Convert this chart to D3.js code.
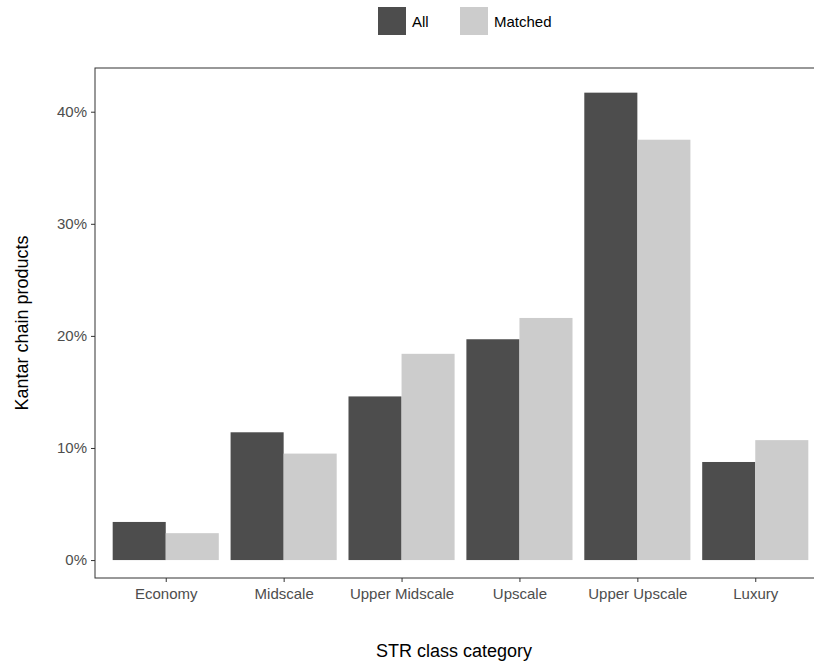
<!DOCTYPE html>
<html><head><meta charset="utf-8">
<script src="https://cdn.jsdelivr.net/npm/d3@7"></script>
<style>body{margin:0;background:#fff;overflow:hidden}text{font-family:"Liberation Sans",Arial,sans-serif}</style>
</head><body><div id="chart"></div>
<script>
var categories = ["Economy", "Midscale", "Upper Midscale", "Upscale", "Upper Upscale", "Luxury"];
var seriesNames = ["All", "Matched"];
var allValues = [3.4, 11.4, 14.6, 19.7, 41.7, 8.75];
var matchedValues = [2.4, 9.5, 18.4, 21.6, 37.5, 10.7];
var yTicks = [0, 10, 20, 30, 40];
var colors = ["#4d4d4d", "#cccccc"];

var svg = d3.select("#chart").append("svg").attr("width", 814).attr("height", 665);
var pLeft = 95, pRight = 826, pTop = 68, pBottom = 578;

var x = d3.scaleLinear().domain([-0.6, categories.length - 0.4]).range([pLeft, pRight]);
var y = d3.scaleLinear().domain([-1.6, 43.9]).range([pBottom, pTop]);
var bw = 0.45;

var data = [];
categories.forEach(function(c, i) {
  data.push({i: i, s: 0, v: allValues[i]});
  data.push({i: i, s: 1, v: matchedValues[i]});
});

svg.selectAll("rect.bar").data(data).enter().append("rect")
  .attr("x", d => x(d.i - 0.45 + d.s * bw))
  .attr("width", x(bw) - x(0))
  .attr("y", d => y(d.v))
  .attr("height", d => y(0) - y(d.v))
  .attr("fill", d => colors[d.s]);

svg.append("rect").attr("x", pLeft).attr("y", pTop).attr("width", pRight - pLeft).attr("height", pBottom - pTop)
  .attr("fill", "none").attr("stroke", "#333").attr("stroke-width", 1);

var yAxis = svg.append("g").attr("transform", `translate(${pLeft},0)`)
  .call(d3.axisLeft(y).tickValues(yTicks).tickFormat(d => d + "%").tickSize(4).tickPadding(4));
var xAxis = svg.append("g").attr("transform", `translate(0,${pBottom})`)
  .call(d3.axisBottom(x).tickValues(d3.range(categories.length)).tickFormat(i => categories[i]).tickSize(4).tickPadding(6));
[yAxis, xAxis].forEach(function(a) {
  a.select(".domain").remove();
  a.selectAll("line").attr("stroke", "#333");
  a.selectAll("text").attr("fill", "#4d4d4d").style("font-size", "15px");
});

svg.append("text").attr("x", 454).attr("y", 657).attr("text-anchor", "middle")
  .style("font-size", "18px").text("STR class category");
svg.append("text").attr("transform", `translate(28,${(pTop + pBottom) / 2}) rotate(-90)`).attr("text-anchor", "middle")
  .style("font-size", "18px").text("Kantar chain products");

var legendX = [378, 460];
seriesNames.forEach(function(n, i) {
  svg.append("rect").attr("x", legendX[i]).attr("y", 7).attr("width", 28).attr("height", 28).attr("fill", colors[i]);
  svg.append("text").attr("x", legendX[i] + 34).attr("y", 27).style("font-size", "15px").text(n);
});
</script></body></html>
